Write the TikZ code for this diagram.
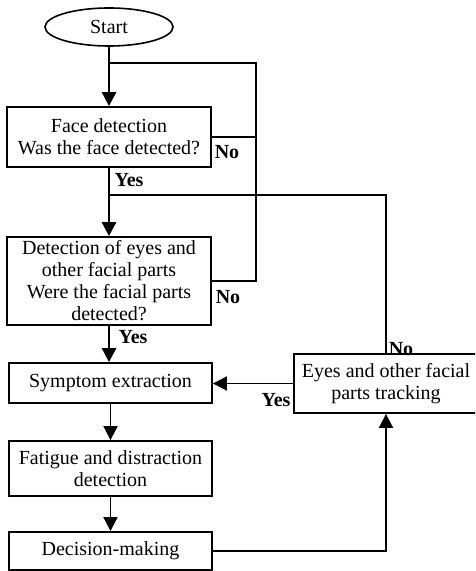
\documentclass[tikz,border=0pt]{standalone}
\usepackage{fontspec}
\setmainfont{Liberation Serif}
\usetikzlibrary{shapes.geometric,arrows.meta}
\begin{document}
\begin{tikzpicture}[x=0.5pt,y=-0.5pt,
  box/.style={draw, line width=0.9pt, rectangle, inner sep=0pt, align=center,
    font=\fontsize{10pt}{11pt}\selectfont},
  lbl/.style={inner sep=0pt, font=\fontsize{10pt}{11pt}\selectfont\bfseries},
  conn/.style={line width=0.9pt},
  arr/.style={line width=0.9pt, -{Triangle[length=7pt,width=7pt]}},
  thickarr/.style={arr, line width=1.4pt}]
\useasboundingbox (0,0) rectangle (475,571);
\begin{scope}
\clip (0,0) rectangle (475,571);
\node[draw, line width=0.8pt, ellipse, minimum width=64pt, minimum height=19pt, inner sep=0pt,
  font=\fontsize{10pt}{11pt}\selectfont] (start) at (109,27) {Start};
\node[box, minimum width=102pt, minimum height=30pt] (face) at (109,137)
  {Face detection\\Was the face detected?};
\node[box, minimum width=102pt, minimum height=44pt] (det) at (109,281)
  {Detection of eyes and\\other facial parts\\Were the facial parts\\detected?};
\node[box, minimum width=101.5pt, minimum height=20pt] (symp) at (110.5,383)
  {Symptom extraction};
\node[box, minimum width=92pt, minimum height=29.5pt] (track) at (386,383.5)
  {Eyes and other facial\\parts tracking};
\node[box, minimum width=101.5pt, minimum height=27.5pt] (fat) at (110.5,468.5)
  {Fatigue and distraction\\detection};
\node[box, minimum width=101.5pt, minimum height=19pt] (dec) at (110.5,551)
  {Decision-making};

\coordinate (c1) at (256,63);
\coordinate (j1) at (109,63);
\coordinate (c2) at (386,195);
\coordinate (j2) at (109,195);

\draw[thickarr] (start.south) -- (face.north);
\draw[conn] (face.east) -| (c1) -- (j1);
\draw[conn] (det.east) -| (c1);
\draw[thickarr] (face.south) -- (det.north);
\draw[conn] (track.north) -- (c2) -- (j2);
\draw[thickarr] (det.south) -- (det.south |- symp.north);
\draw[arr] (track.west) -- (symp.east |- track.west);
\draw[arr] (symp.south) -- (fat.north);
\draw[arr] (fat.south) -- (dec.north);
\draw[arr] (dec.east) -| (track.south);

\node[lbl] (no1) at (227,152) {No};
\node[lbl] (yes1) at (129,180) {Yes};
\node[lbl] (no2) at (228,297) {No};
\node[lbl] (yes2) at (133,337) {Yes};
\node[lbl] (no3) at (401,349) {No};
\node[lbl] (yes3) at (276,400) {Yes};
\end{scope}
\end{tikzpicture}
\end{document}
